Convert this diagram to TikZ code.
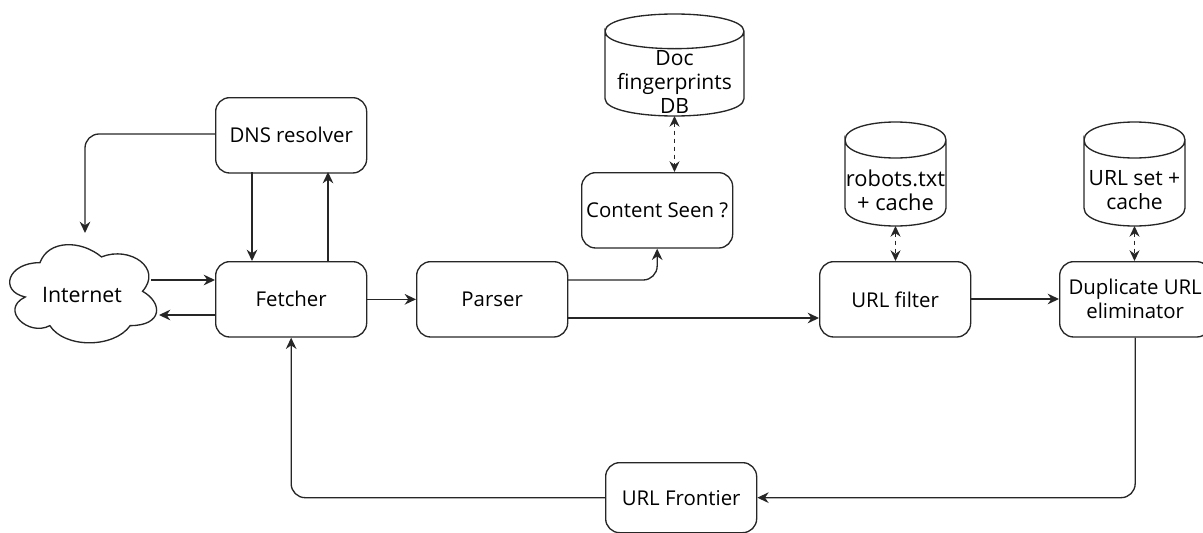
\documentclass[tikz,border=0pt]{standalone}
\usepackage{fontspec}
\setmainfont{Open Sans}
\usetikzlibrary{arrows.meta}
\newcommand\canoutline[2]{%
  \draw[ink] ([yshift=-#2]#1.north west)
    .. controls ([yshift=#2/3]#1.north west) and ([yshift=#2/3]#1.north east) .. ([yshift=-#2]#1.north east)
    .. controls ([yshift=-#2*7/3]#1.north east) and ([yshift=-#2*7/3]#1.north west) .. ([yshift=-#2]#1.north west)
    -- ([yshift=#2]#1.south west)
    .. controls ([yshift=-#2/3]#1.south west) and ([yshift=-#2/3]#1.south east) .. ([yshift=#2]#1.south east)
    -- ([yshift=-#2]#1.north east);}
\tikzset{
  x=0.75pt,y=-0.75pt,
  ink/.style={line width=1pt,draw=black!85},
  box/.style={ink,rectangle,rounded corners=10.5pt,minimum width=113.25pt,minimum height=56.5pt,inner sep=0pt,align=center,anchor=north west,font=\fontsize{15.3}{18}\selectfont},
  can/.style={rectangle,anchor=north west,inner sep=0pt,outer sep=0pt},
  cantext/.style={align=center,inner sep=0pt,font=\fontsize{15.8}{18}\selectfont},
  flow/.style={ink,rounded corners=10.5pt,-{Stealth[length=8.5pt,width=8pt]}},
  link/.style={ink,dash pattern=on 3.5pt off 2.5pt,{Stealth[length=8pt,width=7.5pt]}-{Stealth[length=8pt,width=7.5pt]}},
}
\begin{document}
\begin{tikzpicture}
\useasboundingbox (0,0) rectangle (1203,532);
% cloud
\begin{scope}[shift={(-1,234)},x=123pt,y=-85.9pt]
\draw[ink] (0.25,0.25) .. controls (0.05,0.25) and (0,0.5) .. (0.16,0.55)
  .. controls (0,0.66) and (0.18,0.9) .. (0.31,0.8)
  .. controls (0.4,1) and (0.7,1) .. (0.8,0.8)
  .. controls (1,0.8) and (1,0.6) .. (0.875,0.5)
  .. controls (1,0.3) and (0.8,0.1) .. (0.625,0.2)
  .. controls (0.5,0.05) and (0.3,0.05) .. (0.25,0.25) -- cycle;
\end{scope}
\node[font=\fontsize{16}{18}\selectfont,inner sep=0pt] (internet) at (82,295) {Internet};
% boxes
\node[box] (dns) at (215,97) {DNS resolver};
\node[box] (fetcher) at (215,261) {Fetcher};
\node[box] (parser) at (416,261) {Parser};
\node[box] (seen) at (581,172) {Content Seen ?};
\node[box] (filter) at (819,261) {URL filter};
\node[box] (dup) at (1059,261) {Duplicate URL\\eliminator};
\node[box,minimum height=52.5pt] (frontier) at (605,462) {URL Frontier};
% cylinders
\node[can,minimum width=104.25pt,minimum height=76.5pt] (docdb) at (605,14) {};
\node[can,minimum width=75.75pt,minimum height=78pt] (robots) at (845,122) {};
\node[can,minimum width=75.75pt,minimum height=78pt] (urlset) at (1084,122) {};
\canoutline{docdb}{13pt}
\canoutline{robots}{13.5pt}
\canoutline{urlset}{13.5pt}
\node[cantext] (doctext) at (674.5,82) {Doc\\fingerprints\\DB};
\node[cantext,font=\fontsize{16.4}{18}\selectfont] (robtext) at (895.5,190) {robots.txt\\+ cache};
\node[cantext] (urltext) at (1134.5,190) {URL set +\\cache};
% free ends
\coordinate (cloudin) at (85,233);
\coordinate (cloudout) at (151,280);
\coordinate (cloudback) at (159,315);
\coordinate (dnsdown) at (252,172);
\coordinate (dnsup) at (328,172);
\coordinate (pup) at (567,280);
\coordinate (pdown) at (567,318);
\coordinate (filterout) at (971,299);
% connectors
\draw[flow] (dns.west |- 0,134) -| (cloudin);
\draw[flow] (dnsdown) -- (dnsdown |- fetcher.north);
\draw[flow] (dnsup |- fetcher.north) -- (dnsup);
\draw[flow] (cloudout) -- (cloudout -| fetcher.west);
\draw[flow] (cloudback -| fetcher.west) -- (cloudback);
\draw[flow] (fetcher.east) -- (parser.west);
\draw[flow] (pup) -| (seen.south);
\draw[flow] (pdown) -- (pdown -| filter.west);
\draw[flow] (filterout) -- (filterout -| dup.west);
\draw[flow] (dup.south) |- (frontier.east);
\draw[flow] (frontier.west) -| (fetcher.south);
\draw[link] (docdb.south) -- (docdb.south |- seen.north);
\draw[link] (robots.south) -- (robots.south |- filter.north);
\draw[link] (urlset.south) -- (urlset.south |- dup.north);
\end{tikzpicture}
\end{document}
